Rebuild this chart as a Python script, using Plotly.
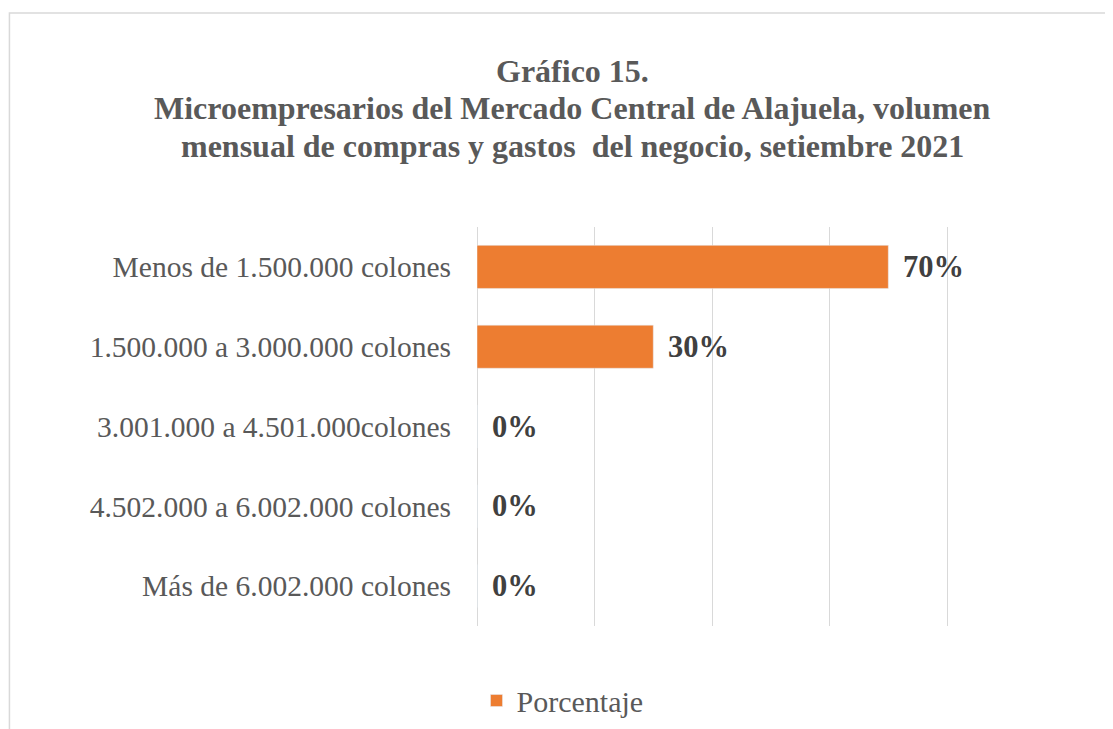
import plotly.graph_objects as go

# Data.
categories = ['Menos de 1.500.000 colones', '1.500.000 a 3.000.000 colones',
              '3.001.000 a 4.501.000colones', '4.502.000 a 6.002.000 colones',
              'Más de 6.002.000 colones']
porcentaje = [70, 30, 0, 0, 0]
series_name = 'Porcentaje'

title_lines = ["Gráfico 15.",
               "Microempresarios del Mercado Central de Alajuela, volumen",
               "mensual de compras y gastos  del negocio, setiembre 2021"]

SERIF = 'Liberation Serif, Times New Roman, serif'

# The page body adds an 8px margin, so the figure is drawn 8px smaller
# and all screen pixel positions are shifted by that offset.
OFF = 8
W, H = 1113 - OFF, 729 - OFF
x_max = 80.5
px_per_pct = (947 - 477) / 80
left, top, bottom = 477 - OFF, 227 - OFF, 626 - OFF
right = left + x_max * px_per_pct
pw, ph = right - left, bottom - top

fig = go.Figure()
fig.add_trace(go.Bar(x=porcentaje, y=categories, orientation='h',
                     name=series_name, marker_color='#ED7D31',
                     width=0.54, showlegend=True))

# Data labels to the right of each bar.
for cat, val in zip(categories, porcentaje):
    fig.add_annotation(x=val, y=cat, text=f"<b>{val}%</b>", showarrow=False,
                       xanchor='left', xshift=13,
                       font=dict(family=SERIF, size=30.5, color='#404040'))

# Chart title, one line per annotation (tighter line spacing than plotly's).
for line, ypx in zip(title_lines, [71, 108.5, 146]):
    fig.add_annotation(text=f"<b>{line}</b>", showarrow=False,
                       xref='paper', yref='paper',
                       x=(572 - OFF - left) / pw, xanchor='center',
                       y=(bottom - (ypx - OFF)) / ph, yanchor='middle',
                       font=dict(family=SERIF, size=32, color='#595959'))

# Light outer frame of the chart area (cut off at right and bottom).
fig.add_shape(type='rect', xref='paper', yref='paper',
              x0=(9.5 - OFF - left) / pw, x1=(W + 20 - left) / pw,
              y0=(bottom - (H + 20)) / ph, y1=(bottom - (13 - OFF)) / ph,
              line=dict(color='#d9d9d9', width=1.5), layer='below')

fig.update_layout(
    width=W, height=H,
    margin=dict(l=left, r=W - right, t=top, b=H - bottom, pad=0,
                autoexpand=False),
    paper_bgcolor='white', plot_bgcolor='white',
    xaxis=dict(range=[0, x_max], dtick=20, showticklabels=False,
               showgrid=True, gridcolor='#d9d9d9', gridwidth=1,
               zeroline=True, zerolinecolor='#d9d9d9', zerolinewidth=1,
               showline=False, fixedrange=True, automargin=False),
    yaxis=dict(autorange='reversed', showgrid=False, showline=False,
               ticklabelstandoff=25, automargin=False,
               tickfont=dict(family=SERIF, size=29.5, color='#595959')),
    legend=dict(orientation='h', xref='container', yref='container',
                x=(476.5 - OFF) / W, xanchor='left',
                y=1 - (700.5 - OFF) / H, yanchor='middle',
                font=dict(family=SERIF, size=30, color='#595959'),
                itemwidth=30),
)

fig.write_html("out.html")
